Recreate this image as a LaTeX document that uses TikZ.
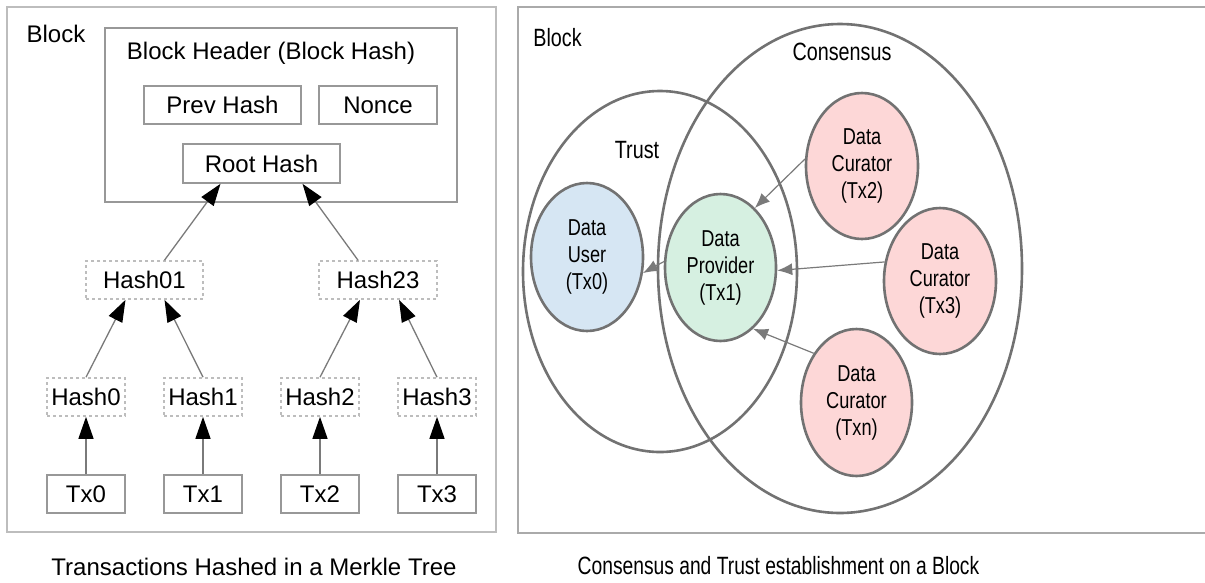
\documentclass[tikz,border=0pt]{standalone}
\usepackage{fontspec}
\setmainfont{Liberation Sans}
\newfontfamily\narrowfont[FakeStretch=0.79]{Liberation Sans}
\newfontfamily\capfont[FakeStretch=0.77]{Liberation Sans}
\usetikzlibrary{arrows.meta,shapes.geometric}

\definecolor{frameA}{HTML}{BDBDBD}
\definecolor{frameB}{HTML}{AAAAAA}
\definecolor{boxline}{HTML}{989898}
\definecolor{ringline}{HTML}{727272}
\definecolor{linkline}{HTML}{7A7A7A}
\definecolor{userfill}{HTML}{D6E6F3}
\definecolor{provfill}{HTML}{D6F0E1}
\definecolor{curfill}{HTML}{FDD7D7}

\tikzset{
  panel/.style={draw, line width=2pt, inner sep=0pt},
  hbox/.style={draw=boxline, line width=1.6pt, inner sep=0pt, minimum height=38pt,
    font=\fontsize{24}{28}\selectfont},
  dbox/.style={hbox, dashed, dash pattern=on 3pt off 3pt, draw=frameA},
  lbl/.style={inner sep=0pt, font=\fontsize{24}{28}\selectfont},
  nlbl/.style={inner sep=0pt, font=\narrowfont\fontsize{25}{29}\selectfont},
  hashlink/.style={draw=linkline, line width=1.3pt,
    -{Triangle[length=22pt,width=15pt,color=black]}},
  ring/.style={ellipse, draw=ringline, line width=2.6pt, inner sep=0pt},
  party/.style={ring, align=center, font=\narrowfont\fontsize{23}{27}\selectfont},
  flow/.style={draw=linkline, line width=1.2pt,
    -{Latex[length=15pt,width=12pt,color=linkline]}}
}

\begin{document}
\begin{tikzpicture}[x=1pt,y=-1pt]
\useasboundingbox (0,0) rectangle (1205,582);

% ---------- Merkle tree panel ----------
\node[panel, draw=frameA, minimum width=489pt, minimum height=525pt] (blockL) at (251.5,269.5) {};
\node[lbl] (blockLtxt) at (56,34) {Block};
\node[draw=boxline, line width=1.6pt, inner sep=0pt, minimum width=352pt, minimum height=174pt] (header) at (281,115) {};
\node[lbl] (headertxt) at (271,53) {Block Header (Block Hash)};
\node[hbox, minimum width=157pt] (prev) at (222.5,105) {Prev Hash};
\node[hbox, minimum width=118pt] (nonce) at (378,105) {Nonce};
\node[hbox, minimum width=157pt, minimum height=39pt] (root) at (261.5,163.5) {Root Hash};

\node[dbox, minimum width=117pt] (h01) at (144.5,280) {Hash01};
\node[dbox, minimum width=118pt] (h23) at (378,280) {Hash23};

\node[dbox, minimum width=78pt] (h0) at (86,397) {Hash0};
\node[dbox, minimum width=78pt] (h1) at (203,397) {Hash1};
\node[dbox, minimum width=78pt] (h2) at (320,397) {Hash2};
\node[dbox, minimum width=78pt] (h3) at (437,397) {Hash3};

\node[hbox, minimum width=78pt] (tx0) at (86,494) {Tx0};
\node[hbox, minimum width=78pt] (tx1) at (203,494) {Tx1};
\node[hbox, minimum width=78pt] (tx2) at (320,494) {Tx2};
\node[hbox, minimum width=78pt] (tx3) at (437,494) {Tx3};

\draw[hashlink] (tx0.north) -- (h0.south);
\draw[hashlink] (tx1.north) -- (h1.south);
\draw[hashlink] (tx2.north) -- (h2.south);
\draw[hashlink] (tx3.north) -- (h3.south);

\draw[hashlink] (h0.north) -- ([xshift=-19pt]h01.south);
\draw[hashlink] (h1.north) -- ([xshift=20pt]h01.south);
\draw[hashlink] (h2.north) -- ([xshift=-18pt]h23.south);
\draw[hashlink] (h3.north) -- ([xshift=21pt]h23.south);

\draw[hashlink] ([xshift=20pt]h01.north) -- ([xshift=-41pt]root.south);
\draw[hashlink] ([xshift=-20pt]h23.north) -- ([xshift=41pt]root.south);

\node[lbl] (capL) at (254,567) {Transactions Hashed in a Merkle Tree};

% ---------- Consensus / trust panel ----------
\node[panel, draw=frameB, minimum width=692pt, minimum height=526pt] (blockR) at (864,270) {};
\node[nlbl] (blockRtxt) at (557.5,38) {Block};

\node[ring, minimum width=364pt, minimum height=489pt] (consensus) at (840,268.5) {};
\node[ring, minimum width=274pt, minimum height=361pt] (trust) at (660,271.5) {};
\node[nlbl] (constxt) at (842,52) {Consensus};
\node[nlbl] (trusttxt) at (637,150) {Trust};

\node[party, fill=userfill, minimum width=112pt, minimum height=148pt] (user) at (587,257) {Data\\User\\(Tx0)};
\node[party, fill=provfill, minimum width=111pt, minimum height=147pt] (prov) at (720.5,267.5) {Data\\Provider\\(Tx1)};
\node[party, fill=curfill, minimum width=112pt, minimum height=146pt] (cur2) at (862,166) {Data\\Curator\\(Tx2)};
\node[party, fill=curfill, minimum width=112pt, minimum height=146pt] (cur3) at (940,281) {Data\\Curator\\(Tx3)};
\node[party, fill=curfill, minimum width=111pt, minimum height=147pt] (curn) at (856.5,402.5) {Data\\Curator\\(Txn)};

\draw[flow] (cur2.173) -- (prov.60);
\draw[flow] (cur3.161) -- (prov.357);
\draw[flow] (curn.131) -- (prov.298);
\draw[flow] (prov.174) -- (user.344);

\node[inner sep=0pt, font=\capfont\fontsize{25}{29}\selectfont] (capR) at (778.5,566) {Consensus and Trust establishment on a Block};
\end{tikzpicture}
\end{document}
